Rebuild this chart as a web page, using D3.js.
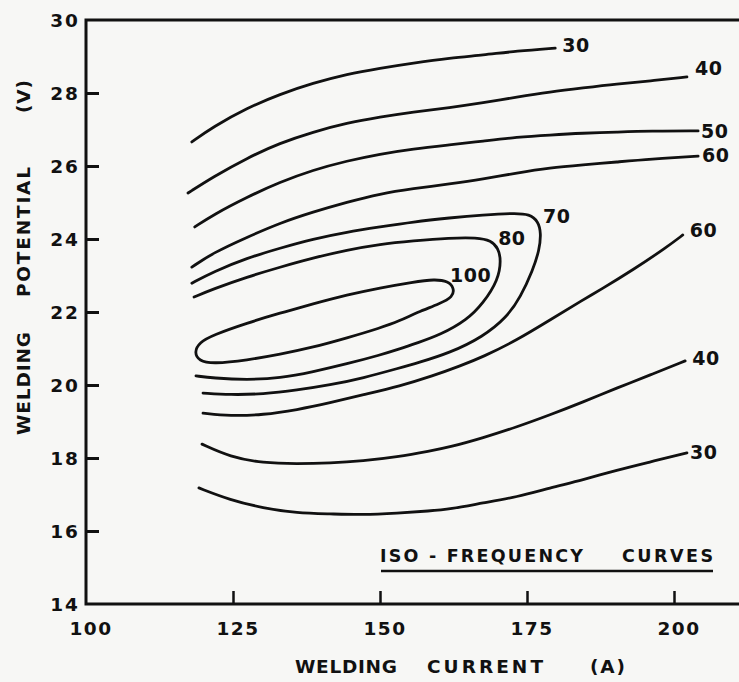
<!DOCTYPE html>
<html>
<head>
<meta charset="utf-8">
<script src="https://cdn.jsdelivr.net/npm/d3@7"></script>
<style>
  html, body { margin: 0; padding: 0; background: #f7f7f5; }
  svg { display: block; }
  text { font-family: "DejaVu Sans", sans-serif; font-weight: bold; fill: #111; }
</style>
</head>
<body>
<svg id="chart" width="739" height="682"></svg>
<script>
// Axis ticks and labels
const xTickLabels = [100, 125, 150, 175, 200];
const xTickMarks = [125, 150, 175, 200];
const yTickLabels = [14, 16, 18, 20, 22, 24, 26, 28, 30];
const yTickMarks = [16, 18, 20, 22, 24, 26, 28];

// Iso-frequency contours: [welding current (A), welding potential (V)]
const iso30Upper = [[118.0,26.66],[121.6,27.07],[127.4,27.59],[133.0,27.97],[138.6,28.27],[144.4,28.52],[150.0,28.68],[155.6,28.82],[161.9,28.96],[167.5,29.04],[173.3,29.15],[179.8,29.23]];
const iso40Upper = [[117.35,25.26],[121.6,25.70],[127.4,26.22],[133.0,26.63],[138.6,26.93],[144.4,27.18],[150.0,27.34],[155.6,27.48],[161.9,27.60],[167.5,27.73],[173.3,27.89],[178.9,28.03],[184.5,28.14],[190.3,28.25],[195.9,28.33],[202.2,28.44]];
const iso50 = [[118.5,24.33],[121.6,24.66],[127.4,25.15],[133.0,25.56],[138.6,25.89],[144.4,26.14],[150.0,26.33],[155.6,26.47],[161.9,26.58],[167.5,26.68],[173.3,26.79],[178.9,26.85],[184.5,26.90],[190.3,26.93],[195.9,26.96],[204.1,26.96]];
const iso60Upper = [[118.0,23.23],[121.6,23.62],[127.4,24.05],[133.0,24.44],[138.6,24.74],[144.4,25.01],[150.0,25.24],[155.6,25.38],[161.9,25.51],[167.5,25.64],[173.3,25.81],[178.9,25.95],[184.5,26.03],[190.3,26.11],[195.9,26.19],[204.1,26.27]];
const iso70 = [[118.0,22.79],[121.6,23.10],[127.4,23.48],[133.0,23.75],[138.6,24.00],[144.4,24.19],[150.0,24.33],[155.6,24.47],[161.9,24.58],[167.5,24.66],[173.0,24.71],[175.4,24.68],[176.9,24.49],[177.4,24.16],[177.1,23.70],[176.0,23.15],[173.9,22.41],[171.6,21.86],[167.5,21.32],[161.9,20.88],[156.3,20.60],[153.4,20.47],[147.1,20.19],[141.5,20.00],[135.9,19.86],[130.1,19.75],[124.5,19.73],[119.9,19.78]];
const iso80 = [[118.37,22.41],[121.6,22.63],[127.4,22.96],[133.0,23.23],[138.6,23.48],[144.4,23.70],[150.0,23.86],[155.6,23.95],[161.9,24.03],[166.5,24.04],[168.9,23.96],[170.1,23.75],[170.6,23.42],[170.1,22.88],[167.6,22.25],[164.8,21.78],[160.2,21.37],[156.3,21.15],[153.4,20.99],[150.0,20.82],[144.4,20.58],[138.6,20.36],[133.0,20.19],[127.4,20.14],[121.6,20.19],[118.7,20.25]];
const iso100 = [[118.4,20.90],[119.3,21.17],[121.6,21.37],[127.4,21.70],[133.0,21.97],[138.6,22.22],[144.4,22.47],[150.0,22.66],[155.6,22.82],[159.35,22.90],[161.6,22.84],[162.6,22.66],[162.4,22.41],[160.2,22.23],[156.3,21.99],[153.4,21.76],[150.0,21.56],[144.4,21.29],[138.6,21.03],[133.0,20.84],[127.4,20.68],[121.6,20.58],[119.2,20.66]];
const iso60Lower = [[119.9,19.23],[124.5,19.15],[130.1,19.18],[135.9,19.32],[141.5,19.51],[147.1,19.73],[153.4,19.97],[159.0,20.25],[163.6,20.52],[167.5,20.77],[173.3,21.23],[178.9,21.78],[184.5,22.33],[187.4,22.60],[193.0,23.15],[198.8,23.78],[201.5,24.11]];
const iso40Lower = [[119.73,18.38],[124.5,18.03],[130.1,17.86],[135.9,17.84],[141.5,17.86],[147.1,17.92],[152.9,18.03],[158.5,18.19],[161.9,18.30],[167.5,18.55],[173.3,18.85],[178.9,19.18],[184.5,19.53],[190.3,19.92],[195.9,20.27],[201.9,20.66]];
const iso30Lower = [[119.2,17.18],[124.5,16.85],[130.1,16.63],[135.9,16.49],[141.5,16.47],[147.1,16.44],[152.9,16.49],[158.5,16.55],[161.9,16.60],[167.5,16.77],[173.3,16.93],[178.9,17.18],[184.5,17.40],[190.3,17.67],[195.9,17.89],[202.2,18.14]];

// Curve table: level, points, whether the contour is a closed ring,
// and where its level label sits (end of line or right-most point).
const contours = [
  { level: 30,  pts: iso30Upper, closed: false, anchor: "end", dx: 7,  dy: 4 },
  { level: 40,  pts: iso40Upper, closed: false, anchor: "end", dx: 8,  dy: -2 },
  { level: 50,  pts: iso50,      closed: false, anchor: "end", dx: 3,  dy: 7 },
  { level: 60,  pts: iso60Upper, closed: false, anchor: "end", dx: 4,  dy: 6 },
  { level: 70,  pts: iso70,      closed: false, anchor: "max", dx: 2,  dy: -10 },
  { level: 80,  pts: iso80,      closed: false, anchor: "max", dx: -3, dy: -15 },
  { level: 100, pts: iso100,     closed: true,  anchor: "max", dx: -4, dy: -6 },
  { level: 60,  pts: iso60Lower, closed: false, anchor: "end", dx: 7,  dy: 2 },
  { level: 40,  pts: iso40Lower, closed: false, anchor: "end", dx: 7,  dy: 4 },
  { level: 30,  pts: iso30Lower, closed: false, anchor: "end", dx: 3,  dy: 6 }
];

const svg = d3.select("#chart");
const W = 739, H = 682;
const plotLeft = 86, plotTop = 20, plotBottom = 604;

const x = d3.scaleLinear().domain([100, 200]).range([plotLeft, 674]);
const y = d3.scaleLinear().domain([14, 30]).range([plotBottom, plotTop]);

svg.append("rect").attr("width", W).attr("height", H).attr("fill", "#f7f7f5");

// Frame: left axis, bottom axis and top rule run off to the right edge
svg.append("path")
  .attr("d", `M${W},${plotTop}H${plotLeft}V${plotBottom}H${W}`)
  .attr("stroke", "#111").attr("stroke-width", 3).attr("fill", "none");

// Axes via d3.axis, ticks pointing inward
const yAxis = d3.axisRight(y).tickValues(yTickMarks).tickSize(13).tickFormat("");
const yg = svg.append("g").attr("transform", `translate(${plotLeft},0)`).call(yAxis);
yg.select(".domain").remove();
yg.selectAll(".tick line").attr("stroke", "#111").attr("stroke-width", 3);

const xAxis = d3.axisTop(x).tickValues(xTickMarks).tickSize(13).tickFormat("");
const xg = svg.append("g").attr("transform", `translate(0,${plotBottom})`).call(xAxis);
xg.select(".domain").remove();
xg.selectAll(".tick line").attr("stroke", "#111").attr("stroke-width", 2.5);

// Tick labels
svg.append("g").selectAll("text").data(yTickLabels).join("text")
  .attr("x", 80).attr("y", d => y(d) + 7)
  .attr("text-anchor", "end").attr("font-size", 18.5).attr("letter-spacing", 2)
  .text(d => d);

svg.append("g").selectAll("text").data(xTickLabels).join("text")
  .attr("x", d => x(d) + 5).attr("y", 635)
  .attr("text-anchor", "middle").attr("font-size", 18.5).attr("letter-spacing", 1.5)
  .text(d => d);

// Axis titles
const xTitle = [["WELDING", 295, 102], ["CURRENT", 427, 116], ["(A)", 590, 35]];
svg.append("g").selectAll("text").data(xTitle).join("text")
  .attr("x", d => d[1]).attr("y", 673).attr("font-size", 18.5)
  .attr("textLength", d => d[2]).attr("lengthAdjust", "spacing")
  .text(d => d[0]);

const yTitle = [["WELDING", 435, 103], ["POTENTIAL", 297, 130], ["(V)", 113, 33]];
svg.append("g").selectAll("text").data(yTitle).join("text")
  .attr("transform", d => `translate(30,${d[1]}) rotate(-90)`)
  .attr("font-size", 18.5)
  .attr("textLength", d => d[2]).attr("lengthAdjust", "spacing")
  .text(d => d[0]);

// Contour lines, smoothed with B-splines
const openLine = d3.line().x(d => x(d[0])).y(d => y(d[1])).curve(d3.curveBasis);
const ringLine = d3.line().x(d => x(d[0])).y(d => y(d[1])).curve(d3.curveBasisClosed);

svg.append("g").selectAll("path").data(contours).join("path")
  .attr("d", c => (c.closed ? ringLine : openLine)(c.pts))
  .attr("fill", "none").attr("stroke", "#111").attr("stroke-width", 2.8)
  .attr("stroke-linecap", "round").attr("stroke-linejoin", "round");

// Level labels
const labelPoint = c => c.anchor === "end"
  ? c.pts[c.pts.length - 1]
  : c.pts.reduce((a, b) => (b[0] > a[0] ? b : a));

svg.append("g").selectAll("text").data(contours).join("text")
  .attr("x", c => x(labelPoint(c)[0]) + c.dx)
  .attr("y", c => y(labelPoint(c)[1]) + c.dy)
  .attr("font-size", 19).attr("letter-spacing", 0.5)
  .text(c => c.level);

// Caption with underline
svg.append("text").attr("x", 380).attr("y", 562).attr("font-size", 17.5)
  .attr("textLength", 203).attr("lengthAdjust", "spacing").text("ISO - FREQUENCY");
svg.append("text").attr("x", 622).attr("y", 562).attr("font-size", 17.5)
  .attr("textLength", 91).attr("lengthAdjust", "spacing").text("CURVES");
svg.append("line").attr("x1", 381).attr("x2", 713).attr("y1", 571).attr("y2", 571)
  .attr("stroke", "#111").attr("stroke-width", 2.5);
</script>
</body>
</html>
